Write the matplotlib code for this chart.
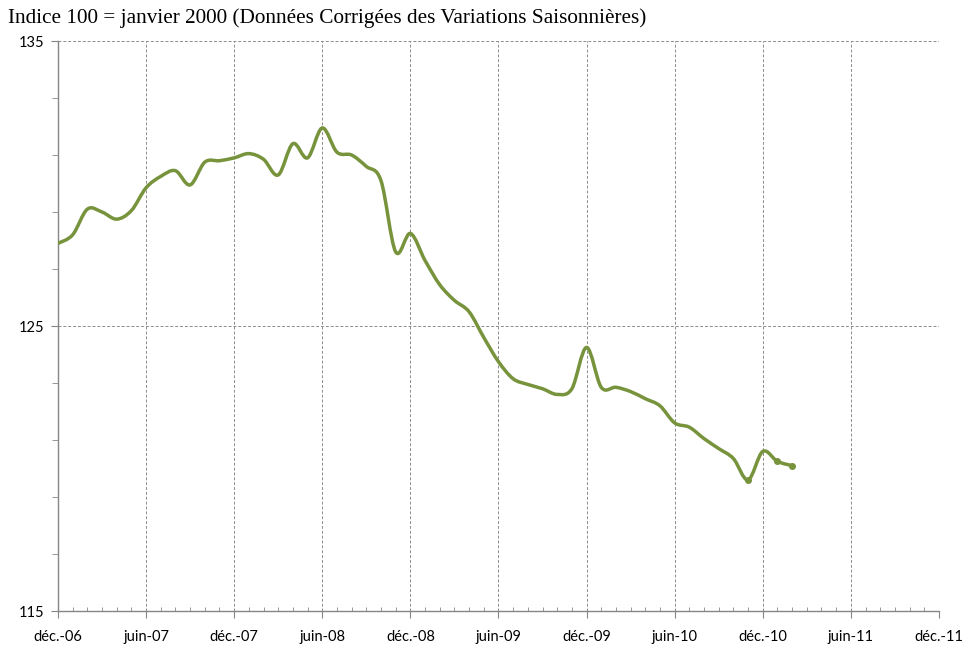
import numpy as np
import matplotlib
matplotlib.use('Agg')
import matplotlib.pyplot as plt
from matplotlib.path import Path
from matplotlib.patches import PathPatch

# monthly index values, Dec 2006 .. Feb 2011
values = [127.9, 128.2, 129.1, 129.0, 128.75, 129.05, 129.85, 130.25, 130.45, 129.95,
          130.75, 130.8, 130.9, 131.05, 130.85, 130.3, 131.4, 130.9, 131.95, 131.1,
          131.0, 130.6, 130.1, 127.6, 128.25, 127.3, 126.45, 125.9, 125.5, 124.6,
          123.75, 123.15, 122.95, 122.8, 122.6, 122.8, 124.25, 122.85, 122.85, 122.7,
          122.45, 122.2, 121.6, 121.45, 121.05, 120.7, 120.35, 119.6, 120.6, 120.25,
          120.1]
marked = [47, 49, 50]  # points drawn with markers

tick_labels = ['déc.-06', 'juin-07', 'déc.-07', 'juin-08', 'déc.-08', 'juin-09',
               'déc.-09', 'juin-10', 'déc.-10', 'juin-11', 'déc.-11']
title = 'Indice 100 = janvier 2000 (Données Corrigées des Variations Saisonnières)'

green = '#77933C'
grey = '#868686'

fig = plt.figure(figsize=(9.66, 6.47), dpi=100)
ax = fig.add_axes([0.060, 0.0556, 0.912, 0.881])

x = np.arange(len(values), dtype=float)
y = np.array(values, dtype=float)

# smoothed line like the spreadsheet one: cubic bezier segments
verts = [(x[0], y[0])]
codes = [Path.MOVETO]
n = len(x)
for i in range(n - 1):
    p0 = np.array([x[max(i - 1, 0)], y[max(i - 1, 0)]])
    p1 = np.array([x[i], y[i]])
    p2 = np.array([x[i + 1], y[i + 1]])
    p3 = np.array([x[min(i + 2, n - 1)], y[min(i + 2, n - 1)]])
    c1 = p1 + (p2 - p0) / 6.0
    c2 = p2 - (p3 - p1) / 6.0
    verts += [tuple(c1), tuple(c2), tuple(p2)]
    codes += [Path.CURVE4] * 3
ax.add_patch(PathPatch(Path(verts, codes), fill=False, edgecolor=green,
                       lw=2.5, capstyle='round', joinstyle='round', zorder=3))
ax.plot(x[marked], y[marked], 'o', color=green, ms=4, lw=0, zorder=4)

ax.set_xlim(0, 60)
ax.set_ylim(115, 135)

ax.set_xticks(np.arange(0, 61, 6))
ax.set_xticklabels(tick_labels)
ax.set_xticks(np.arange(0, 61, 1), minor=True)
ax.set_yticks([115, 125, 135])
ax.set_yticks(np.arange(115, 135.1, 2), minor=True)

for s in ['top', 'right']:
    ax.spines[s].set_visible(False)
for s in ['left', 'bottom']:
    ax.spines[s].set_color(grey)
    ax.spines[s].set_linewidth(1.0)

ax.grid(True, which='major', color='#8c8c8c', linestyle=(0, (3, 2)), lw=0.7)
ax.set_axisbelow(True)
# dashed line at the right end
ax.axvline(60, color='#8c8c8c', linestyle=(0, (3, 2)), lw=0.7, zorder=1)

ax.tick_params(axis='x', which='major', direction='out', length=5, color=grey,
               labelsize=10.5, pad=9)
ax.tick_params(axis='x', which='minor', direction='in', length=3, color=grey)
ax.tick_params(axis='y', which='major', direction='out', length=5, color=grey,
               labelsize=10.5, pad=5)
ax.tick_params(axis='y', which='minor', direction='out', length=4, color=grey)
for lab in ax.get_xticklabels() + ax.get_yticklabels():
    lab.set_fontfamily('Lato')

fig.text(0.008, 0.972, title, fontsize=15.3, family='Liberation Serif',
         ha='left', va='center')

fig.savefig('out.png', dpi=100)
